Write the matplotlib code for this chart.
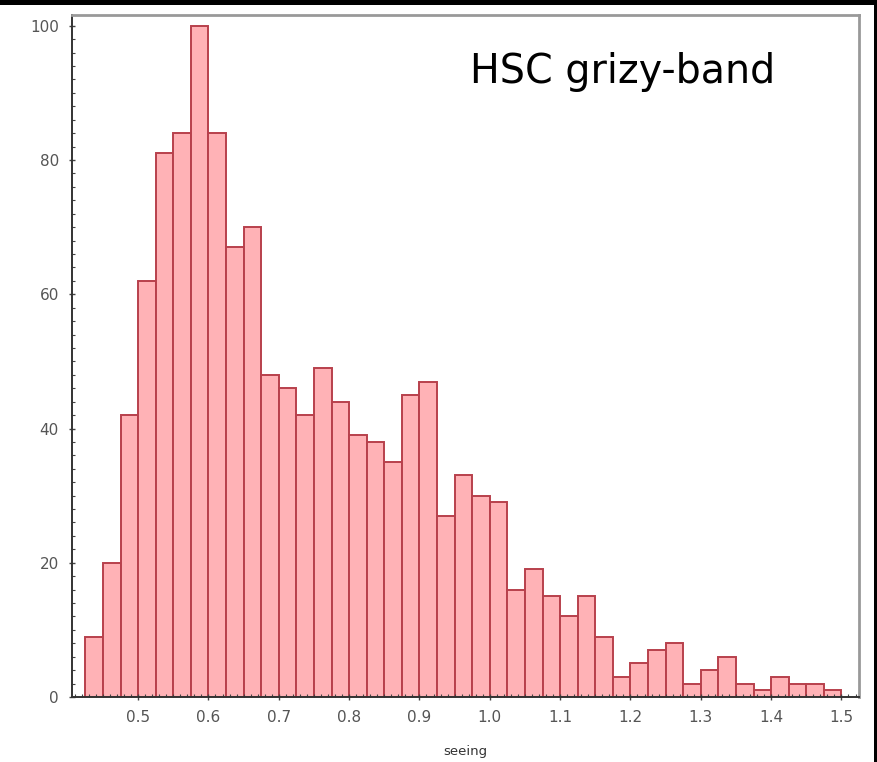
import numpy as np
import matplotlib
matplotlib.use("Agg")
import matplotlib.pyplot as plt
from matplotlib.ticker import MultipleLocator
from matplotlib.patches import Rectangle

# seeing histogram, bins of 0.025 arcsec from 0.425 to 1.5
bin_start = 0.425
bin_width = 0.025
counts = [9, 20, 42, 62, 81, 84, 100, 84, 67, 70,
          48, 46, 42, 49, 44, 39, 38, 35, 45, 47,
          27, 33, 30, 29, 16, 19, 15, 12, 15, 9,
          3, 5, 7, 8, 2, 4, 6, 2, 1, 3,
          2, 2, 1]
x_ticks = [0.5, 0.6, 0.7, 0.8, 0.9, 1.0, 1.1, 1.2, 1.3, 1.4, 1.5]
x_tick_labels = ["0.5", "0.6", "0.7", "0.8", "0.9", "1.0", "1.1", "1.2", "1.3", "1.4", "1.5"]
y_ticks = [0, 20, 40, 60, 80, 100]

bin_left = bin_start + bin_width * np.arange(len(counts))

fig = plt.figure(figsize=(8.77, 7.62), dpi=100)
ax = fig.add_axes([0.0821, 0.0853, 0.8974, 0.8950])

ax.bar(bin_left, counts, width=bin_width, align="edge",
       facecolor="#ffb2b6", edgecolor="#b8404c", linewidth=1.4)

ax.set_xlim(0.406, 1.525)
ax.set_ylim(0, 101.6)

ax.set_xticks(x_ticks)
ax.set_xticklabels(x_tick_labels)
ax.set_yticks(y_ticks)
ax.xaxis.set_minor_locator(MultipleLocator(0.01))
ax.yaxis.set_minor_locator(MultipleLocator(2))
ax.tick_params(which="major", direction="inout", length=5, width=1.0,
               colors="#444444", labelcolor="#555555", labelsize=11, pad=7)
ax.tick_params(which="minor", direction="in", length=2, width=0.8, colors="#444444")
ax.tick_params(top=False, right=False, which="both")

for side in ["left", "bottom"]:
    ax.spines[side].set_color("#333333")
    ax.spines[side].set_linewidth(1.4)
for side in ["top", "right"]:
    ax.spines[side].set_color("#999999")
    ax.spines[side].set_linewidth(2.0)

ax.set_xlabel("seeing", fontsize=9.5, color="#333333", labelpad=14)

ax.text(0.506, 0.9, "HSC grizy-band", transform=ax.transAxes,
        ha="left", va="baseline", fontsize=28.5, color="black",
        family=["Verdana", "DejaVu Sans"])

# dark frame along the top and right edges
fig.patches.append(Rectangle((0, 1 - 5 / 762), 1, 5 / 762, transform=fig.transFigure,
                             facecolor="black", edgecolor="none", zorder=10))
fig.patches.append(Rectangle((1 - 3 / 877, 0), 3 / 877, 1, transform=fig.transFigure,
                             facecolor="black", edgecolor="none", zorder=10))

fig.savefig("out.png", dpi=100)
